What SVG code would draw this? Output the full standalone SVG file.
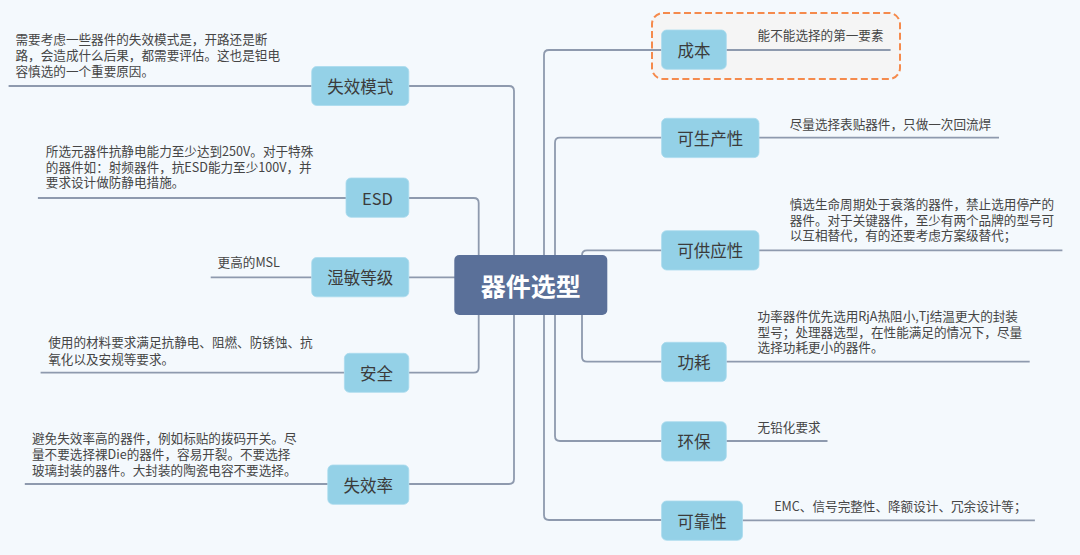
<svg xmlns="http://www.w3.org/2000/svg" width="1080" height="555" viewBox="0 0 1080 555">
<style>
.bg{fill:#f4f9fd}
.con{fill:none;stroke:#8e9aae;stroke-width:1.8}
.box{fill:#94d1e7;stroke:#a9dbee;stroke-width:0.8}
.lbl{font-family:"Noto Sans CJK SC","Noto Sans",sans-serif;font-size:16.5px;fill:#3b3b3b;text-anchor:middle;dominant-baseline:central}
.desc{font-family:"Noto Sans CJK SC","Noto Sans",sans-serif;font-size:12.6px;fill:#454545}
.root{fill:#5a7099}
.rootlbl{font-family:"Noto Sans CJK SC","Noto Sans",sans-serif;font-size:25px;font-weight:bold;fill:#ffffff;text-anchor:middle;dominant-baseline:central}
.hl{fill:#f5f5f5;stroke:#f58a4c;stroke-width:2;stroke-dasharray:7 3.5}
</style>
<rect class="bg" x="0" y="0" width="1080" height="555"/>
<rect id="highlight" class="hl" x="652" y="13" width="248" height="66" rx="11"/>
<g id="connectors">
<path class="con" d="M408.8 86 H509 Q514 86 514 91 V479 Q514 484 509 484 H408.8"/>
<path class="con" d="M408.8 198 H473.7 Q478.7 198 478.7 203 V367.7 Q478.7 372.7 473.7 372.7 H408.8"/>
<path class="con" d="M408.8 277.3 H455"/>
<path class="con" d="M661.6 50 H549 Q544 50 544 55 V515 Q544 520 549 520 H661.6"/>
<path class="con" d="M661.6 137.7 H560 Q555 137.7 555 142.7 V436 Q555 441 560 441 H661.6"/>
<path class="con" d="M661.6 250.3 H587 Q582 250.3 582 255.3 V356.7 Q582 361.7 587 361.7 H661.6"/>
<path class="con" d="M8.6 86 H311.7"/>
<path class="con" d="M37.9 198 H346"/>
<path class="con" d="M210.7 277.3 H311.7"/>
<path class="con" d="M40.6 372.7 H344.4"/>
<path class="con" d="M24.8 484 H327.8"/>
<path class="con" d="M726.3 50 H890.6"/>
<path class="con" d="M759 137.7 H999"/>
<path class="con" d="M759 250.3 H1062.4"/>
<path class="con" d="M726.3 361.7 H1029.7"/>
<path class="con" d="M726.3 441 H827.5"/>
<path class="con" d="M742.5 520.3 H1034.9"/>
</g>
<g id="root">
<rect class="root" x="454.3" y="255" width="153" height="60" rx="5"/>
<text class="rootlbl" x="530.8" y="285">器件选型</text>
</g>
<g id="n-shixiaomoshi">
<rect class="box" x="311.7" y="66.5" width="97.1" height="39" rx="5"/>
<text class="lbl" x="360.2" y="86">失效模式</text>
<text class="desc" x="15.5"><tspan x="15.5" y="43.8">需要考虑一些器件的失效模式是，开路还是断</tspan><tspan x="15.5" y="60.1">路，会造成什么后果，都需要评估。这也是钽电</tspan><tspan x="15.5" y="76.2">容慎选的一个重要原因。</tspan></text>
</g>
<g id="n-esd">
<rect class="box" x="346" y="178" width="62.8" height="39.3" rx="5"/>
<text class="lbl" x="377.4" y="197.6">ESD</text>
<text class="desc"><tspan x="45.8" y="155.6">所选元器件抗静电能力至少达到250V。对于特殊</tspan><tspan x="45.8" y="171.5">的器件如：射频器件，抗ESD能力至少100V，并</tspan><tspan x="45.8" y="187.4">要求设计做防静电措施。</tspan></text>
</g>
<g id="n-shimin">
<rect class="box" x="311.7" y="257.5" width="97.1" height="39.3" rx="5"/>
<text class="lbl" x="360.2" y="277">湿敏等级</text>
<text class="desc" x="217.6" y="267.2">更高的MSL</text>
</g>
<g id="n-anquan">
<rect class="box" x="344.4" y="353.3" width="64.4" height="39" rx="5"/>
<text class="lbl" x="376.6" y="372.7">安全</text>
<text class="desc"><tspan x="48.2" y="347.2">使用的材料要求满足抗静电、阻燃、防锈蚀、抗</tspan><tspan x="48.2" y="363.8">氧化以及安规等要求。</tspan></text>
</g>
<g id="n-shixiaolv">
<rect class="box" x="327.8" y="465" width="81" height="39.3" rx="5"/>
<text class="lbl" x="368.3" y="484.6">失效率</text>
<text class="desc"><tspan x="32" y="442.8">避免失效率高的器件，例如标贴的拨码开关。尽</tspan><tspan x="32" y="458.9">量不要选择裸Die的器件，容易开裂。不要选择</tspan><tspan x="32" y="475.1">玻璃封装的器件。大封装的陶瓷电容不要选择。</tspan></text>
</g>
<g id="n-chengben">
<rect class="box" x="661.6" y="30" width="64.7" height="39.3" rx="5"/>
<text class="lbl" x="694" y="49.6">成本</text>
<text class="desc" x="757.6" y="39.5">能不能选择的第一要素</text>
</g>
<g id="n-keshengchan">
<rect class="box" x="661.6" y="118.3" width="97.4" height="39.3" rx="5"/>
<text class="lbl" x="710.3" y="137.9">可生产性</text>
<text class="desc" x="789.7" y="128.8">尽量选择表贴器件，只做一次回流焊</text>
</g>
<g id="n-kegongying">
<rect class="box" x="661.6" y="230.7" width="97.4" height="39.3" rx="5"/>
<text class="lbl" x="710.3" y="250.3">可供应性</text>
<text class="desc"><tspan x="789.7" y="208.8">慎选生命周期处于衰落的器件，禁止选用停产的</tspan><tspan x="789.7" y="224.5">器件。对于关键器件，至少有两个品牌的型号可</tspan><tspan x="789.7" y="240.2">以互相替代，有的还要考虑方案级替代；</tspan></text>
</g>
<g id="n-gonghao">
<rect class="box" x="661.6" y="342.3" width="64.7" height="39.3" rx="5"/>
<text class="lbl" x="694" y="361.9">功耗</text>
<text class="desc"><tspan x="757.6" y="321.2">功率器件优先选用RjA热阻小,Tj结温更大的封装</tspan><tspan x="757.6" y="337">型号；处理器选型，在性能满足的情况下，尽量</tspan><tspan x="757.6" y="352.4">选择功耗更小的器件。</tspan></text>
</g>
<g id="n-huanbao">
<rect class="box" x="661.6" y="421.7" width="64.7" height="39.3" rx="5"/>
<text class="lbl" x="694" y="441.3">环保</text>
<text class="desc" x="757.6" y="431.8">无铅化要求</text>
</g>
<g id="n-kekao">
<rect class="box" x="661.6" y="501" width="80.9" height="39.3" rx="5"/>
<text class="lbl" x="702" y="520.6">可靠性</text>
<text class="desc" x="774.2" y="511.2">EMC、信号完整性、降额设计、冗余设计等；</text>
</g>
</svg>
